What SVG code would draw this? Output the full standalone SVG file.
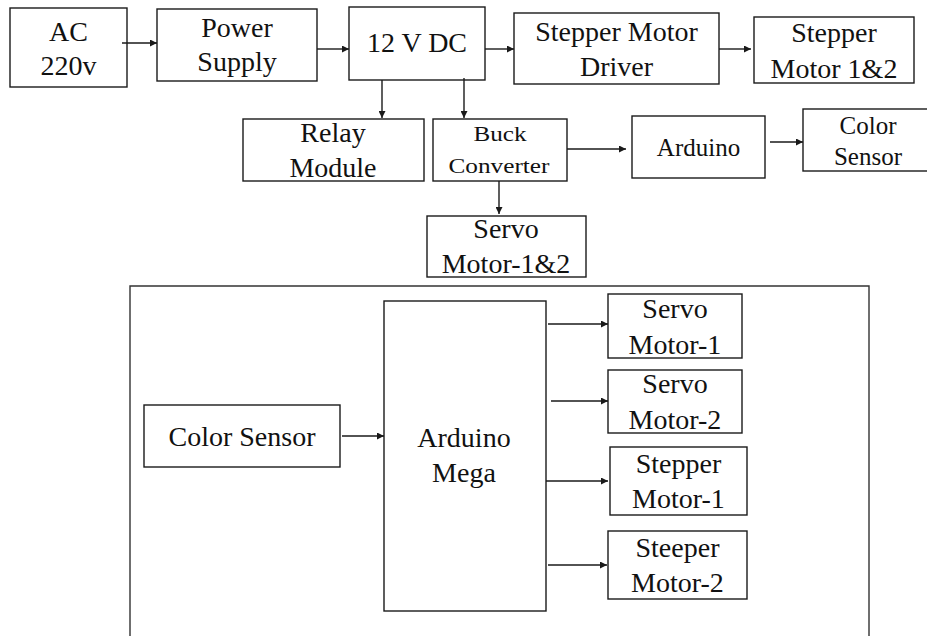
<svg xmlns="http://www.w3.org/2000/svg" width="927" height="636" viewBox="0 0 927 636">
<defs>
<marker id="ah" viewBox="0 0 10 10" refX="10" refY="5" markerWidth="8" markerHeight="7" markerUnits="userSpaceOnUse" orient="auto">
<path d="M0,0 L10,5 L0,10 z" fill="#1a1a1a"/>
</marker>
<style>
rect{fill:#fff;stroke:#1a1a1a;stroke-width:1.4}
.frame{fill:none;stroke:#333;stroke-width:1.4}
text{font-family:"Liberation Serif","Times New Roman",serif;font-size:28px;fill:#111;text-anchor:middle}
.s{font-size:25px}
.b{font-size:21px}
#connectors line{stroke:#1a1a1a;stroke-width:1.4;marker-end:url(#ah)}
</style>
</defs>
<rect width="927" height="636" style="fill:#fff;stroke:none"/>
<path class="frame" d="M130,640 L130,286 L869,286 L869,640"/>
<g id="ac"><rect x="10" y="8" width="117" height="79"/><text x="68.5" y="41">AC</text><text x="68.5" y="75">220v</text></g>
<g id="power-supply"><rect x="157" y="9" width="160" height="72"/><text x="237" y="37">Power</text><text x="237" y="71">Supply</text></g>
<g id="dc12"><rect x="349" y="7" width="136" height="73"/><text x="417" y="52">12 V DC</text></g>
<g id="stepper-driver"><rect x="514" y="13" width="205" height="71"/><text x="616.5" y="41">Stepper Motor</text><text x="616.5" y="76">Driver</text></g>
<g id="stepper-motors"><rect x="754" y="17" width="160" height="66"/><text x="834" y="42">Stepper</text><text x="834" y="78">Motor 1&amp;2</text></g>
<g id="relay"><rect x="243" y="119" width="181" height="62"/><text x="333" y="142">Relay</text><text x="333" y="177">Module</text></g>
<g id="buck"><rect x="433" y="119" width="134" height="62"/><text class="b" x="500" y="141" textLength="53" lengthAdjust="spacingAndGlyphs">Buck</text><text class="b" x="499" y="173" textLength="101" lengthAdjust="spacingAndGlyphs">Converter</text></g>
<g id="arduino"><rect x="632" y="116" width="133" height="62"/><text class="s" x="698.5" y="156">Arduino</text></g>
<g id="color-sensor-top"><rect x="803" y="109" width="130" height="62"/><text class="s" x="868" y="134">Color</text><text class="s" x="868" y="165">Sensor</text></g>
<g id="servo-12"><rect x="427" y="216" width="159" height="61"/><text x="506" y="238">Servo</text><text x="506" y="273">Motor-1&amp;2</text></g>
<g id="color-sensor"><rect x="144" y="405" width="196" height="62"/><text x="242" y="446">Color Sensor</text></g>
<g id="arduino-mega"><rect x="384" y="301" width="162" height="310"/><text x="464" y="447">Arduino</text><text x="464" y="482">Mega</text></g>
<g id="servo-1"><rect x="608" y="294" width="134" height="64"/><text x="675" y="318">Servo</text><text x="675" y="354">Motor-1</text></g>
<g id="servo-2"><rect x="608" y="370" width="134" height="63"/><text x="675" y="393">Servo</text><text x="675" y="429">Motor-2</text></g>
<g id="stepper-1"><rect x="610" y="447" width="137" height="68"/><text x="678.5" y="473">Stepper</text><text x="678.5" y="508">Motor-1</text></g>
<g id="stepper-2"><rect x="608" y="531" width="139" height="68"/><text x="677.5" y="557">Steeper</text><text x="677.5" y="592">Motor-2</text></g>
<g id="connectors">
<line x1="122" y1="43" x2="157" y2="43"/>
<line x1="317" y1="49" x2="349" y2="49"/>
<line x1="485" y1="49" x2="514" y2="49"/>
<line x1="719" y1="49" x2="751" y2="49"/>
<line x1="382" y1="80" x2="382" y2="118"/>
<line x1="464" y1="78" x2="464" y2="118"/>
<line x1="567" y1="149" x2="626" y2="149"/>
<line x1="770" y1="142" x2="803" y2="142"/>
<line x1="499" y1="181" x2="499" y2="214"/>
<line x1="342" y1="436" x2="384" y2="436"/>
<line x1="548" y1="324" x2="608" y2="324"/>
<line x1="551" y1="401" x2="608" y2="401"/>
<line x1="546" y1="481" x2="608" y2="481"/>
<line x1="548" y1="565" x2="607" y2="565"/>
</g>
</svg>
